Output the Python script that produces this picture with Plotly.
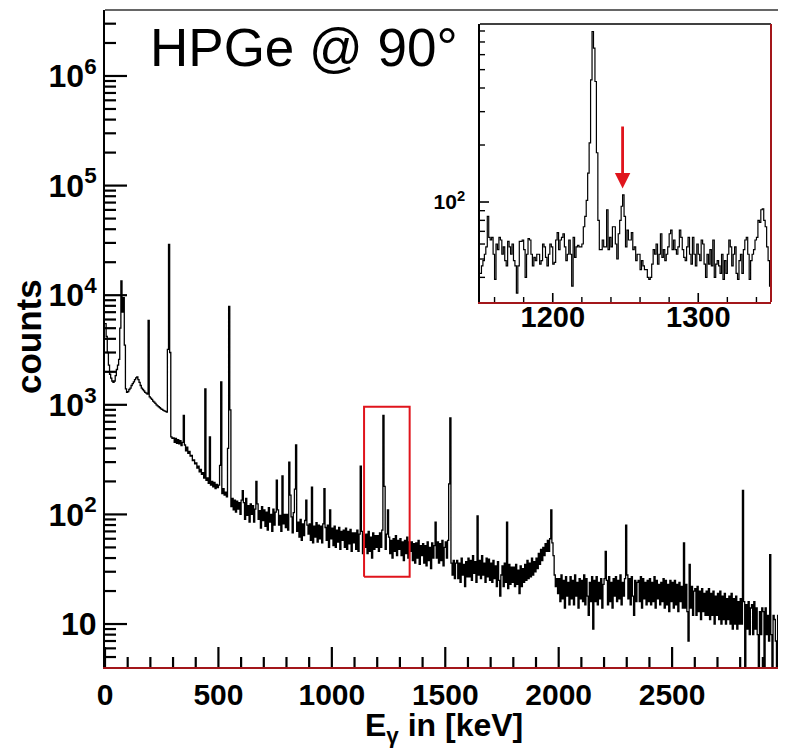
import numpy as np
import plotly.graph_objects as go

# ---------------- data ----------------
BIN_KEV = 5  # main spectrum bin width in keV

# main spectrum continuum, 5 keV bins from 0 keV (10 bins = 50 keV per row)
cont_counts = [
    5500, 4200, 3000, 2300, 1900, 1750, 1650, 1600, 1650, 1850,
    2100, 2300, 2600, 3000, 3500, 3000, 2600, 2000, 1400, 1300,
    1320, 1380, 1420, 1500, 1560, 1620, 1700, 1760, 1800, 1700,
    1600, 1500, 1420, 1380, 1340, 1300, 1280, 1250, 1220, 1180,
    1150, 1120, 1080, 1060, 1030, 1000, 980, 960, 940, 920,
    910, 890, 880, 870, 860, 870, 880, 900, 510, 495,
    500, 455, 495, 445, 480, 440, 470, 425, 455, 430,
    430, 380, 410, 360, 375, 340, 345, 310, 315, 290,
    295, 265, 275, 245, 258, 232, 240, 215, 225, 205,
    215, 192, 208, 185, 200, 178, 196, 172, 188, 176,
    185, 162, 190, 155, 172, 150, 160, 145, 165, 150,
    150, 118, 140, 110, 135, 105, 132, 112, 128, 100,
    135, 95, 128, 90, 140, 98, 120, 85, 125, 100,
    120, 85, 112, 78, 125, 90, 108, 75, 118, 88,
    110, 78, 105, 72, 115, 85, 100, 70, 112, 80,
    105, 75, 110, 80, 98, 70, 115, 82, 100, 76,
    100, 72, 108, 78, 95, 68, 104, 75, 98, 70,
    85, 62, 90, 58, 82, 64, 88, 60, 80, 66,
    82, 58, 86, 55, 78, 62, 84, 56, 80, 60,
    78, 55, 82, 52, 76, 58, 80, 50, 74, 60,
    75, 52, 78, 50, 72, 56, 76, 48, 70, 58,
    72, 50, 75, 48, 70, 54, 73, 46, 68, 55,
    68, 48, 72, 46, 66, 52, 70, 44, 65, 50,
    66, 44, 70, 46, 62, 40, 68, 48, 64, 50,
    64, 46, 68, 50, 72, 55, 70, 48, 66, 75,
    62, 44, 58, 40, 60, 46, 64, 42, 58, 48,
    60, 42, 56, 38, 58, 44, 62, 40, 56, 46,
    56, 38, 54, 36, 55, 40, 58, 35, 52, 42,
    54, 36, 52, 34, 56, 38, 50, 32, 55, 40,
    52, 60, 40, 56, 36, 54, 38, 58, 34, 50,
    56, 40, 58, 52, 55, 36, 28, 38, 26, 36,
    38, 26, 36, 24, 40, 28, 35, 22, 37, 27,
    40, 27, 38, 25, 42, 29, 37, 24, 40, 28,
    38, 26, 42, 28, 36, 24, 40, 27, 39, 25,
    36, 24, 38, 26, 34, 22, 37, 25, 18, 28,
    34, 22, 36, 24, 32, 21, 35, 23, 33, 24,
    33, 22, 35, 23, 31, 19, 34, 22, 32, 24,
    35, 25, 38, 26, 36, 27, 40, 28, 37, 30,
    40, 32, 44, 35, 48, 38, 50, 42, 54, 46,
    58, 46, 60, 52, 55, 42, 28, 22, 26, 19,
    26, 16, 28, 17, 25, 14, 27, 18, 24, 15,
    27, 17, 25, 15, 28, 18, 24, 14, 26, 17,
    25, 16, 28, 15, 26, 18, 12, 24, 16, 27,
    9, 25, 16, 27, 15, 24, 17, 26, 14, 23,
    26, 17, 25, 15, 27, 16, 24, 14, 26, 18,
    27, 16, 25, 17, 28, 15, 24, 18, 26, 16,
    28, 17, 26, 15, 27, 18, 12, 25, 16, 24,
    25, 16, 27, 14, 26, 17, 24, 15, 25, 16,
    26, 15, 24, 16, 27, 14, 25, 17, 23, 15,
    24, 16, 26, 14, 25, 15, 23, 13, 25, 16,
    24, 14, 25, 15, 23, 13, 24, 16, 22, 14,
    22, 14, 23, 13, 7, 21, 14, 22, 12, 20,
    21, 12, 22, 13, 20, 11, 21, 13, 19, 12,
    20, 12, 21, 11, 19, 12, 20, 10, 18, 12,
    19, 11, 20, 10, 18, 11, 19, 10, 17, 11,
    18, 10, 19, 9, 17, 10, 18, 9, 16, 10,
    17, 10, 9, 16, 3, 15, 9, 16, 8, 14,
    15, 8, 16, 9, 14, 8, 3, 13, 8, 14,
    13, 3, 14, 8, 12, 7, 13, 8, 3, 12,
    11, 7, 3, 12, 6, 10,
]

# gamma lines on top of the continuum (energy in keV, counts)
peak_energies = [65, 70, 75, 80, 85, 190, 275, 280, 285, 345, 440, 460, 505, 510,
                 540, 545, 550, 605, 665, 755, 780, 810, 815, 835, 840, 885, 910,
                 965, 990, 1125, 1225, 1230, 1245, 1455, 1515, 1520, 1640, 1770,
                 1965, 2205, 2295, 2550, 2575, 2810, 2930]
peak_heights = [5000, 13500, 7000, 9500, 3500, 5900, 3200, 29000, 3000, 800, 1400, 510, 280, 1620,
                400, 7900, 900, 165, 200, 205, 225, 300, 150, 170, 430, 135, 177,
                172, 110, 275, 800, 180, 110, 85, 190, 760, 97, 85,
                110, 46, 80, 55, 35, 166, 43]

# inset: 1 keV bins from 1150 keV
inset_start_keV = 1150
inset_counts = [
    42, 46, 49, 53, 58, 84, 65, 63, 65, 53,
    39, 60, 56, 65, 63, 53, 58, 49, 46, 62,
    58, 53, 60, 49, 46, 33, 46, 62, 62, 63,
    56, 40, 53, 64, 63, 53, 46, 51, 49, 53,
    53, 47, 49, 60, 58, 51, 46, 53, 60, 58,
    47, 48, 63, 69, 56, 63, 65, 68, 58, 49,
    53, 63, 53, 36, 65, 51, 58, 59, 58, 58,
    60, 74, 84, 102, 142, 205, 442, 795, 650, 433,
    182, 80, 56, 56, 63, 58, 58, 91, 56, 65,
    58, 74, 74, 60, 50, 68, 80, 95, 109, 84,
    58, 71, 63, 63, 69, 56, 58, 49, 53, 53,
    44, 49, 46, 44, 44, 40, 39, 40, 47, 56,
    53, 60, 47, 53, 68, 51, 56, 49, 53, 58,
    68, 71, 56, 63, 56, 53, 58, 71, 65, 56,
    51, 49, 58, 65, 53, 47, 65, 53, 46, 60,
    53, 49, 63, 60, 47, 40, 53, 47, 56, 46,
    63, 40, 47, 49, 46, 42, 53, 39, 49, 42,
    53, 63, 58, 46, 53, 58, 42, 39, 49, 53,
    42, 56, 63, 65, 53, 39, 49, 53, 56, 63,
    65, 80, 78, 91, 92, 80, 74, 58, 49, 36,
]

zoom_box_E = [1142, 1343]
zoom_box_counts = [27, 960]
arrow_E = 1248
arrow_tip_counts = 118
arrow_tail_counts = 255

x_major = [0, 500, 1000, 1500, 2000, 2500]
x_minor = [100, 200, 300, 400, 600, 700, 800, 900, 1100, 1200, 1300, 1400, 1600, 1700,
           1800, 1900, 2100, 2200, 2300, 2400, 2600, 2700, 2800, 2900]
y_major = [10, 100, 1000, 10000, 100000, 1000000]
y_major_text = ["10", "10<sup>2</sup>", "10<sup>3</sup>", "10<sup>4</sup>",
                "10<sup>5</sup>", "10<sup>6</sup>"]
y_minor = [5, 6, 7, 8, 9, 20, 30, 40, 50, 60, 70, 80, 90,
           200, 300, 400, 500, 600, 700, 800, 900,
           2000, 3000, 4000, 5000, 6000, 7000, 8000, 9000,
           20000, 30000, 40000, 50000, 60000, 70000, 80000, 90000,
           200000, 300000, 400000, 500000, 600000, 700000, 800000, 900000,
           2000000, 3000000]
inset_x_major = [1200, 1300]
inset_x_minor = [1160, 1180, 1220, 1240, 1260, 1280, 1320, 1340]
inset_y_major = [100]
inset_y_minor = [40, 50, 60, 70, 80, 90, 200, 300, 400, 500, 600, 700, 800]

# ---------------- build histogram steps ----------------
counts = np.array(cont_counts, dtype=float)
for e, h in zip(peak_energies, peak_heights):
    i = int(e // BIN_KEV)
    counts[i] = max(counts[i], h)
edges = np.arange(len(counts) + 1) * BIN_KEV
main_y = np.append(counts, counts[-1])

ins = np.array(inset_counts, dtype=float)
ins_edges = inset_start_keV + np.arange(len(ins) + 1)
ins_y = np.append(ins, ins[-1])

# ---------------- figure ----------------
# the page body has an 8 px margin, so the figure is 8 px smaller than the window
W, H = 778, 740
ML, MR, MT, MB = 97, 5, 2, 81
PW, PH = W - ML - MR, H - MT - MB          # 676 x 657 plot area
RX0, RY1 = 105, 667                        # plot-area left / bottom in window pixels
DARKRED = "#a3161a"
FAM = "Liberation Sans, Arial, sans-serif"
BOLD = dict(family=FAM, color="black", weight="bold")


def px(rx):
    return (rx - RX0) / PW


def py(ry):
    return (RY1 - ry) / PH


XR = [0, 2980]
YR = [0.608, 6.602]
IXR = [inset_start_keV, inset_start_keV + len(ins)]
IYR = [1.472, 2.94]
ix0, ix1 = px(480), px(771)
iy0, iy1 = py(302), py(24)
IPW, IPH = (ix1 - ix0) * PW, (iy1 - iy0) * PH

fig = go.Figure()
fig.add_trace(go.Scatter(x=edges, y=main_y, mode="lines",
                         line=dict(color="black", width=1.3, shape="hv"),
                         xaxis="x", yaxis="y", hoverinfo="skip"))
fig.add_trace(go.Scatter(
    x=[zoom_box_E[0], zoom_box_E[1], zoom_box_E[1], zoom_box_E[0], zoom_box_E[0]],
    y=[zoom_box_counts[0], zoom_box_counts[0], zoom_box_counts[1], zoom_box_counts[1], zoom_box_counts[0]],
    mode="lines", line=dict(color="#e0141c", width=2), xaxis="x", yaxis="y", hoverinfo="skip"))
fig.add_trace(go.Scatter(x=ins_edges, y=ins_y, mode="lines",
                         line=dict(color="black", width=1.2, shape="hv"),
                         xaxis="x2", yaxis="y2", hoverinfo="skip"))


def ax(**kw):
    base = dict(showgrid=False, zeroline=False, automargin=False, fixedrange=True, ticks="")
    base.update(kw)
    return base


# tick marks drawn as short line shapes (inside the frame), in paper coordinates
def xticks(vals, rng, dom_x, dom_y, length_px, width):
    out = []
    for v in vals:
        fx = dom_x[0] + (v - rng[0]) / (rng[1] - rng[0]) * (dom_x[1] - dom_x[0])
        out.append(dict(type="line", xref="paper", yref="paper", x0=fx, x1=fx,
                        y0=dom_y[0], y1=dom_y[0] + length_px / PH,
                        line=dict(color="black", width=width)))
    return out


def yticks(vals, rng, dom_x, dom_y, length_px, width):
    out = []
    for v in vals:
        fy = dom_y[0] + (np.log10(v) - rng[0]) / (rng[1] - rng[0]) * (dom_y[1] - dom_y[0])
        out.append(dict(type="line", xref="paper", yref="paper", x0=dom_x[0],
                        x1=dom_x[0] + length_px / PW, y0=fy, y1=fy,
                        line=dict(color="black", width=width)))
    return out


MD = [0, 1]
IDX, IDY = [ix0, ix1], [iy0, iy1]
tick_shapes = (
    xticks(x_major, XR, MD, MD, 20, 2.2)
    + xticks(x_minor, XR, MD, MD, 10, 2.2)
    + yticks(y_major, YR, MD, MD, 22, 2.2)
    + yticks(y_minor, YR, MD, MD, 11, 2.2)
    + xticks(inset_x_major, IXR, IDX, IDY, 9, 1.6)
    + xticks(inset_x_minor, IXR, IDX, IDY, 5, 1.4)
    + yticks(inset_y_major, IYR, IDX, IDY, 9, 1.6)
    + yticks(inset_y_minor, IYR, IDX, IDY, 5, 1.4)
)

frame_shapes = [
    dict(type="line", xref="paper", yref="paper", x0=0, x1=1, y0=1, y1=1,
         line=dict(color="#333333", width=1.5)),
    dict(type="line", xref="paper", yref="paper", x0=1, x1=1, y0=0, y1=1,
         line=dict(color=DARKRED, width=2)),
    dict(type="line", xref="paper", yref="paper", x0=ix0, x1=ix1, y0=iy1, y1=iy1,
         line=dict(color="black", width=1.5)),
    dict(type="line", xref="paper", yref="paper", x0=ix1, x1=ix1, y0=iy0, y1=iy1,
         line=dict(color=DARKRED, width=2)),
]

fig.update_layout(
    template="none",
    width=W, height=H, margin=dict(l=ML, r=MR, t=MT, b=MB, pad=0),
    paper_bgcolor="white", plot_bgcolor="white", showlegend=False,
    xaxis=ax(domain=[0, 1], anchor="y", range=XR, tickmode="array", tickvals=x_major,
             showline=True, linecolor=DARKRED, linewidth=2,
             tickfont=dict(size=30, **BOLD)),
    yaxis=ax(domain=[0, 1], anchor="x", type="log", range=YR, tickmode="array",
             tickvals=y_major, ticktext=y_major_text,
             showline=True, linecolor="black", linewidth=2, tickfont=dict(size=32, **BOLD)),
    xaxis2=ax(domain=[ix0, ix1], anchor="y2", range=IXR, tickmode="array", tickvals=inset_x_major,
              showline=True, linecolor=DARKRED, linewidth=2, ticklabelstandoff=-12,
              tickfont=dict(size=29, **BOLD)),
    yaxis2=ax(domain=[iy0, iy1], anchor="x2", type="log", range=IYR, tickmode="array",
              tickvals=inset_y_major, ticktext=["10<sup>2</sup>"], ticklabelstandoff=9,
              showline=True, linecolor="black", linewidth=1.5, tickfont=dict(size=21, **BOLD)),
    shapes=frame_shapes + tick_shapes,
    annotations=[
        dict(text="HPGe @ 90°", xref="paper", yref="paper", x=px(148),
             y=py(47), xanchor="left", yanchor="middle", showarrow=False,
             font=dict(family=FAM, size=53, color="black")),
        dict(text="counts", xref="paper", yref="paper", x=px(28),
             y=py(337), textangle=-90, xanchor="center", yanchor="middle",
             showarrow=False, font=dict(size=35, **BOLD)),
        dict(text="E<sub>γ</sub> in [keV]", xref="paper", yref="paper", x=px(444),
             y=py(727), xanchor="center", yanchor="middle",
             showarrow=False, font=dict(size=32, **BOLD)),
        dict(x=arrow_E, y=np.log10(arrow_tip_counts), xref="x2", yref="y2",
             ax=arrow_E, ay=np.log10(arrow_tail_counts), axref="x2", ayref="y2",
             text="", showarrow=True, arrowhead=2, arrowsize=1.1, arrowwidth=2.8,
             arrowcolor="#e0141c"),
    ],
)

fig.write_html("out.html")
